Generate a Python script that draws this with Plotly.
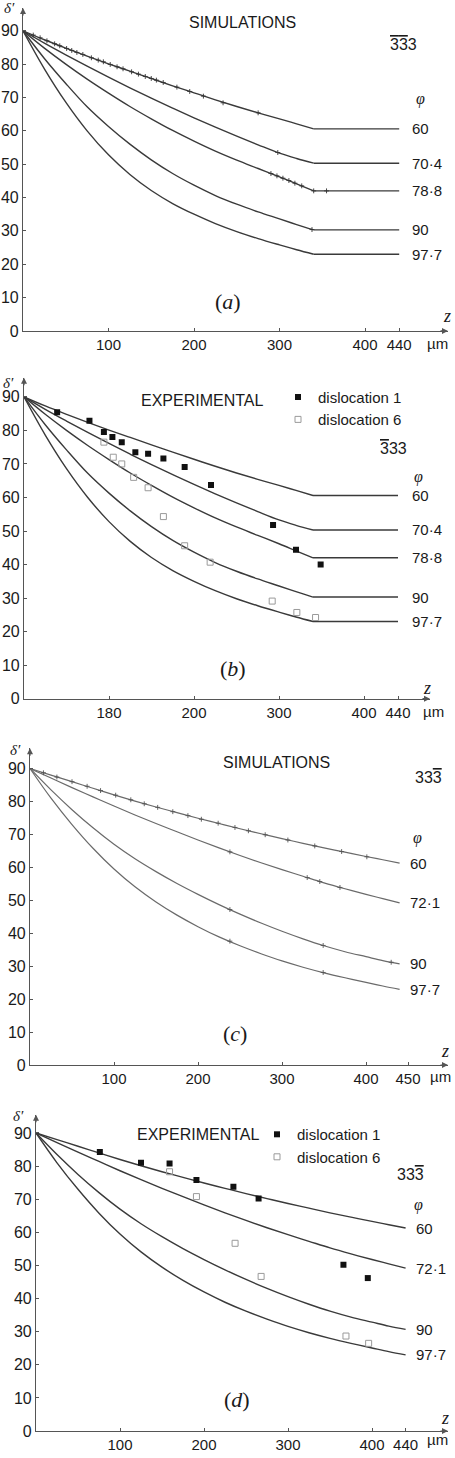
import plotly.graph_objects as go

W, H = 455, 1458

# ---------------- data ----------------
# panels (a),(b): simulated curves, bend at z=340 then flat to 440
z_ab = [0, 25, 50, 75, 100, 125, 150, 175, 200, 225, 250, 275, 300, 320, 340]
z_ab_end = 440
d_ab_60 = [90, 87.3, 84.8, 82.4, 80.1, 77.9, 75.7, 73.5, 71.4, 69.3, 67.3, 65.4, 63.6, 62.1, 60.6]
d_ab_704 = [90, 86.3, 82.8, 79.4, 76.1, 72.9, 69.8, 66.8, 63.9, 61.1, 58.4, 55.8, 53.3, 51.7, 50.3]
d_ab_788 = [90, 84.8, 80.0, 75.5, 71.3, 67.3, 63.6, 60.1, 56.9, 53.9, 51.2, 48.7, 46.2, 44.1, 42.0]
d_ab_90 = [90, 81.7, 74.2, 67.2, 61.3, 56.0, 51.3, 47.2, 43.7, 40.6, 38.0, 35.7, 33.6, 31.9, 30.3]
d_ab_977 = [90, 78.6, 68.6, 60.0, 52.8, 46.9, 42.1, 38.2, 35.0, 32.2, 29.8, 27.7, 25.8, 24.35, 23.0]
phi_ab = ["60", "70·4", "78·8", "90", "97·7"]

# simulation marks in (a)
sim_a60_z = [12, 20, 28, 37, 43, 51, 57, 63, 70, 80, 88, 94, 102, 110, 117, 127, 135, 143, 150, 156, 164, 180, 195, 211, 234, 275]
sim_a60_d = [88.7, 87.9, 87.0, 86.1, 85.5, 84.7, 84.1, 83.5, 82.9, 81.9, 81.2, 80.7, 79.9, 79.2, 78.6, 77.7, 77.0, 76.3, 75.7, 75.2, 74.5, 73.1, 71.8, 70.4, 68.4, 65.4]
sim_a704_z = [298]
sim_a704_d = [53.5]
sim_a788_z = [290, 297, 304, 311, 318, 326, 340, 355]
sim_a788_d = [47.2, 46.5, 45.8, 45.1, 44.3, 43.5, 42.0, 42.0]
sim_a90_z = [338]
sim_a90_d = [30.4]

# panel (b) experimental points
b_d1_z = [39, 77, 94, 104, 115, 131, 146, 164, 189, 220, 293, 320, 349]
b_d1_d = [85.4, 82.9, 79.5, 78.0, 76.5, 73.5, 73.0, 71.6, 69.1, 63.7, 51.8, 44.4, 40.0]
b_d6_z = [94, 105, 115, 129, 146, 164, 189, 219, 292, 321, 343]
b_d6_d = [76.5, 72.0, 70.0, 66.0, 62.9, 54.3, 45.6, 40.7, 29.1, 25.7, 24.2]

# panels (c),(d): simulated curves to 440
z_cd = [0, 25, 50, 75, 100, 125, 150, 175, 200, 225, 250, 275, 300, 325, 350, 375, 400, 420, 440]
d_cd_60 = [90, 88.0, 86.0, 84.0, 82.0, 80.1, 78.3, 76.6, 74.9, 73.3, 71.7, 70.2, 68.7, 67.3, 65.9, 64.6, 63.3, 62.3, 61.3]
d_cd_721 = [90, 87.1, 84.2, 81.4, 78.6, 75.9, 73.3, 70.8, 68.3, 65.9, 63.6, 61.4, 59.3, 57.3, 55.3, 53.5, 51.8, 50.5, 49.2]
d_cd_90 = [90, 83.5, 77.5, 72.0, 67.0, 62.6, 58.7, 55.1, 51.8, 48.7, 45.8, 43.1, 40.6, 38.3, 36.2, 34.4, 32.9, 31.7, 30.7]
d_cd_977 = [90, 81.0, 73.0, 65.8, 59.5, 54.1, 49.5, 45.5, 42.0, 38.9, 36.2, 33.8, 31.6, 29.7, 28.0, 26.5, 25.1, 24.0, 23.0]
phi_cd = ["60", "72·1", "90", "97·7"]

sim_c60_z = [16, 32, 50, 68, 84, 102, 120, 136, 152, 170, 188, 204, 224, 244, 260, 280, 307, 339, 371, 401]
sim_c60_d = [88.7, 87.4, 86.0, 84.6, 83.3, 81.9, 80.5, 79.3, 78.2, 76.9, 75.7, 74.6, 73.4, 72.1, 71.1, 69.9, 68.3, 66.5, 64.8, 63.2]
sim_c721_z = [238, 330, 345, 369]
sim_c721_d = [64.7, 56.9, 55.7, 53.9]
sim_c90_z = [238, 349, 430]
sim_c90_d = [47.2, 36.3, 31.2]
sim_c977_z = [238, 349]
sim_c977_d = [37.6, 28.1]

# panel (d) experimental points
d_d1_z = [76, 125, 159, 191, 235, 265, 366, 395]
d_d1_d = [84.3, 81.0, 80.8, 75.8, 73.8, 70.2, 50.2, 46.2]
d_d6_z = [159, 191, 237, 268, 369, 396]
d_d6_d = [78.3, 70.8, 56.7, 46.7, 28.7, 26.5]

xt_a = ["100", "200", "300", "400", "440"]
xt_b = ["180", "200", "300", "400", "440"]
xt_c = ["100", "200", "300", "400", "450"]
xt_d = ["100", "200", "300", "400", "440"]
xv_a = [100, 200, 300, 400, 440]
xv_c = [100, 200, 300, 400, 450]
yv = [0, 10, 20, 30, 40, 50, 60, 70, 80, 90]

# ---------------- geometry (pixels) ----------------
panels = {
    1: dict(x0=23, xs=0.855, xend=448, y0=333, ys=3.356, ytop=8),
    2: dict(x0=24, xs=0.85, xend=430, y0=703, ys=3.374, ytop=380),
    3: dict(x0=30, xs=0.84, xend=448, y0=1071.7, ys=3.316, ytop=753),
    4: dict(x0=36, xs=0.84, xend=448, y0=1440, ys=3.333, ytop=1121.7),
}

SANS = "Liberation Sans, Arial, sans-serif"
SERIF = "Liberation Serif, Times New Roman, serif"
AX = "#555"
TXT = "#1a1a1a"

fig = go.Figure()


def ax_ids(i):
    return ("x" if i == 1 else f"x{i}"), ("y" if i == 1 else f"y{i}")


def add_curve(i, z, d, color, width, tail=None):
    xa, ya = ax_ids(i)
    fig.add_trace(go.Scatter(x=z, y=d, mode="lines", xaxis=xa, yaxis=ya,
                             line=dict(color=color, width=width, shape="spline", smoothing=1.0),
                             showlegend=False, hoverinfo="skip"))
    if tail is not None:
        fig.add_trace(go.Scatter(x=[z[-1], tail], y=[d[-1], d[-1]], mode="lines", xaxis=xa, yaxis=ya,
                                 line=dict(color=color, width=width), showlegend=False, hoverinfo="skip"))


def add_marks(i, z, d, color):
    xa, ya = ax_ids(i)
    fig.add_trace(go.Scatter(x=z, y=d, mode="markers", xaxis=xa, yaxis=ya,
                             marker=dict(symbol="cross-thin", size=3.5, line=dict(color=color, width=0.9)),
                             showlegend=False, hoverinfo="skip"))


LC = "#3a3a3a"
for i in (1, 2):
    for d in (d_ab_60, d_ab_704, d_ab_788, d_ab_90, d_ab_977):
        add_curve(i, z_ab, d, LC, 1.4, tail=z_ab_end)
for i, col, w in ((3, "#6a6a6a", 1.2), (4, LC, 1.4)):
    for d in (d_cd_60, d_cd_721, d_cd_90, d_cd_977):
        add_curve(i, z_cd, d, col, w)

add_marks(1, sim_a60_z, sim_a60_d, "#333")
add_marks(1, sim_a704_z, sim_a704_d, "#333")
add_marks(1, sim_a788_z, sim_a788_d, "#333")
add_marks(1, sim_a90_z, sim_a90_d, "#333")
add_marks(3, sim_c60_z, sim_c60_d, "#555")
add_marks(3, sim_c721_z, sim_c721_d, "#555")
add_marks(3, sim_c90_z, sim_c90_d, "#555")
add_marks(3, sim_c977_z, sim_c977_d, "#555")

# experimental points with legends
for i, lg, z1, d1, z6, d6 in ((2, "legend", b_d1_z, b_d1_d, b_d6_z, b_d6_d),
                              (4, "legend2", d_d1_z, d_d1_d, d_d6_z, d_d6_d)):
    xa, ya = ax_ids(i)
    fig.add_trace(go.Scatter(x=z1, y=d1, mode="markers", xaxis=xa, yaxis=ya, name="dislocation 1",
                             marker=dict(symbol="square", size=6, color="#111"),
                             legend=lg, showlegend=True, hoverinfo="skip"))
    fig.add_trace(go.Scatter(x=z6, y=d6, mode="markers", xaxis=xa, yaxis=ya, name="dislocation 6",
                             marker=dict(symbol="square-open", size=6, color="#9a9a9a", line=dict(width=1)),
                             legend=lg, showlegend=True, hoverinfo="skip"))

layout = dict(width=W, height=H, margin=dict(l=0, r=0, t=0, b=0),
              paper_bgcolor="white", plot_bgcolor="white", showlegend=True)

anns = []


def P(px, py):
    return px / W, 1 - py / H


for i, g in panels.items():
    xr = (g["xend"] - g["x0"]) / g["xs"]
    yr = (g["y0"] - g["ytop"]) / g["ys"]
    xk = "xaxis" if i == 1 else f"xaxis{i}"
    yk = "yaxis" if i == 1 else f"yaxis{i}"
    xa, ya = ax_ids(i)
    tv = xv_c if i == 3 else xv_a
    tt = {1: xt_a, 2: xt_b, 3: xt_c, 4: xt_d}[i]
    layout[xk] = dict(domain=[g["x0"] / W, g["xend"] / W], range=[0, xr], anchor=ya,
                      tickvals=tv, ticktext=tt, ticks="inside", ticklen=3, tickcolor=AX,
                      showline=True, linecolor=AX, linewidth=1.2, showgrid=False, zeroline=False,
                      tickfont=dict(family=SANS, size=15, color=TXT), fixedrange=True)
    layout[yk] = dict(domain=[1 - g["y0"] / H, 1 - g["ytop"] / H], range=[0, yr], anchor=xa,
                      tickvals=yv, ticks="inside", ticklen=3, tickcolor=AX,
                      showline=True, linecolor=AX, linewidth=1.2, showgrid=False, zeroline=False,
                      tickfont=dict(family=SANS, size=16, color=TXT), fixedrange=True)
    # axis arrows
    anns.append(dict(x=xr, y=0, xref=xa, yref=ya, ax=-9, ay=0, showarrow=True, arrowhead=2,
                     arrowsize=1, arrowwidth=1.2, arrowcolor=AX, text=""))
    anns.append(dict(x=0, y=yr, xref=xa, yref=ya, ax=0, ay=9, showarrow=True, arrowhead=2,
                     arrowsize=1, arrowwidth=1.2, arrowcolor=AX, text=""))

# curve end labels (phi values)
for i, shift in ((1, 11), (2, 12)):
    xa, ya = ax_ids(i)
    for lab, d in zip(phi_ab, (d_ab_60, d_ab_704, d_ab_788, d_ab_90, d_ab_977)):
        anns.append(dict(x=z_ab_end, y=d[-1], xref=xa, yref=ya, xanchor="left", yanchor="middle",
                         xshift=shift, showarrow=False, text=lab, font=dict(family=SANS, size=15, color=TXT)))
for i, shift in ((3, 8), (4, 8)):
    xa, ya = ax_ids(i)
    for lab, d in zip(phi_cd, (d_cd_60, d_cd_721, d_cd_90, d_cd_977)):
        anns.append(dict(x=z_cd[-1], y=d[-1], xref=xa, yref=ya, xanchor="left", yanchor="middle",
                         xshift=shift, showarrow=False, text=lab, font=dict(family=SANS, size=15, color=TXT)))


def T(px, py, text, size=15, family=SANS, xanchor="center"):
    x, y = P(px, py)
    anns.append(dict(x=x, y=y, xref="paper", yref="paper", xanchor=xanchor, yanchor="middle",
                     showarrow=False, text=text, font=dict(family=family, size=size, color=TXT)))


T(242, 23, "SIMULATIONS", 16)
T(202, 403, "EXPERIMENTAL", 16)
T(276, 767, "SIMULATIONS", 16)
T(198, 1142, "EXPERIMENTAL", 16)

T(228, 303, "(<i>a</i>)", 22, SERIF)
T(233, 673, "(<i>b</i>)", 22, SERIF)
T(235, 1040, "(<i>c</i>)", 22, SERIF)
T(237, 1408, "(<i>d</i>)", 22, SERIF)

for (px, py) in ((420, 100), (418, 480), (417, 843), (418, 1212)):
    T(px, py, "<i>φ</i>", 16, SERIF)

OV = "<span style='text-decoration:overline'>3</span>"
T(403, 45, OV + OV + "3", 16)
T(393, 451, OV + "33", 16)
T(428, 782, "33" + OV, 16)
T(410, 1182, "33" + OV, 16)

for (px, py) in ((447, 318), (427, 692), (445, 1058), (445, 1427)):
    T(px, py, "<i>z</i>", 18, SERIF)
for (px, py) in ((437, 346), (433, 716), (440, 1083), (437, 1448)):
    T(px, py, "µm", 15)
for (px, py) in ((9, 8), (8, 385), (15, 755), (18, 1123)):
    T(px, py, "<i>δ′</i>", 15, SERIF)

layout["annotations"] = anns
x, y = P(278, 383)
layout["legend"] = dict(x=x, y=y, xanchor="left", yanchor="top", bgcolor="rgba(0,0,0,0)",
                        font=dict(family=SANS, size=15, color=TXT), itemwidth=30, tracegroupgap=0)
x, y = P(257, 1125)
layout["legend2"] = dict(x=x, y=y, xanchor="left", yanchor="top", bgcolor="rgba(0,0,0,0)",
                         font=dict(family=SANS, size=15, color=TXT), itemwidth=30, tracegroupgap=0)

fig.update_layout(**layout)
fig.write_html("out.html")
